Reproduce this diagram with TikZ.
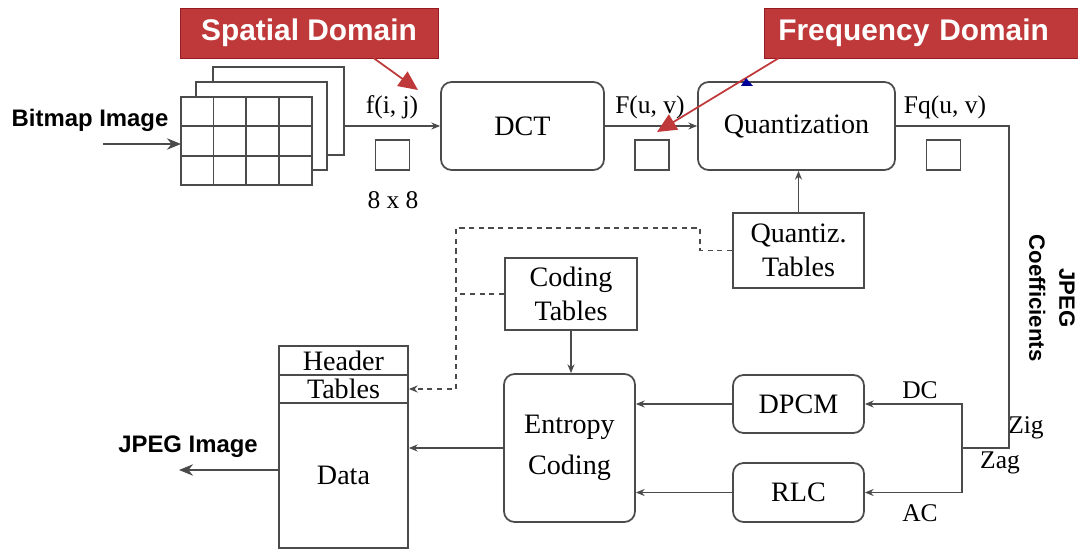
\documentclass[tikz,border=0pt]{standalone}
\usepackage{fontspec}
\setmainfont{Liberation Serif}
\setsansfont{Liberation Sans}
\usetikzlibrary{arrows.meta}
\definecolor{labelred}{RGB}{192,57,58}
\definecolor{labeledge}{RGB}{150,28,34}
\definecolor{linegray}{RGB}{75,75,75}

\begin{document}
\begin{tikzpicture}[x=0.02cm,y=-0.02cm,
    line/.style={draw=linegray,line width=1pt},
    arr/.style={line,-{Stealth[length=5pt,width=4pt]}},
    bigarr/.style={line,-{Stealth[length=8pt,width=6.5pt]}},
    dashline/.style={line,dash pattern=on 3pt off 2.5pt},
    block/.style={line,rounded corners=6pt,align=center,inner sep=0pt,font=\fontsize{16}{19}\selectfont},
    tab/.style={line,align=center,inner sep=0pt,font=\fontsize{16}{19}\selectfont},
    cell/.style={line,minimum width=0.68cm,minimum height=0.6cm,inner sep=0pt},
    lab/.style={inner sep=0pt,font=\fontsize{14.5}{17}\selectfont},
    side/.style={inner sep=0pt,font=\sffamily\bfseries\fontsize{13.6}{16}\selectfont},
    tag/.style={fill=labelred,draw=labeledge,text=white,inner sep=0pt,minimum height=1cm,
      font=\sffamily\bfseries\fontsize{17}{20}\selectfont},
    pointer/.style={draw=labelred,line width=1pt,-{Triangle[length=11pt,width=10pt]}}]
  \useasboundingbox (0,0) rectangle (1078,550);

  % bitmap sheets
  \foreach \dx/\dy in {32/-30,15/-15,0/0}
    \draw[line,fill=white] (181+\dx,97+\dy) rectangle +(131,88);
  \foreach \x in {213.5,246,279}
    \draw[line] (\x,97) -- (\x,185);
  \foreach \y in {126,156}
    \draw[line] (181,\y) -- (312,\y);
  \coordinate (grid) at (181,144);
  \coordinate (img) at (344,126);
  \coordinate (bmp) at (103,144);

  \node[side] (bitmap) at (90,120) {Bitmap Image};
  \node[block,minimum width=3.26cm,minimum height=1.76cm] (dct) at (522.5,126) {DCT};
  \node[block,minimum width=3.94cm,minimum height=1.76cm] (quant) at (796.5,126) {Quantization};
  \node[tab,minimum width=2.62cm,minimum height=1.5cm] (qtab) at (798.5,250.5) {Quantiz.\\Tables};
  \node[tab,minimum width=2.64cm,minimum height=1.44cm] (ctab) at (571,294) {Coding\\Tables};
  \node[block,minimum width=2.62cm,minimum height=2.96cm] (entropy) at (569.5,448) {Entropy\\[4pt]Coding};
  \node[block,minimum width=2.62cm,minimum height=1.16cm] (dpcm) at (798.5,404) {DPCM};
  \node[block,minimum width=2.62cm,minimum height=1.18cm] (rlc) at (798.5,492.5) {RLC};
  \node[tab,minimum width=2.58cm,minimum height=0.58cm] (header) at (343.5,360.5) {Header};
  \node[tab,minimum width=2.58cm,minimum height=0.56cm] (tables) at (343.5,389) {Tables};
  \node[tab,minimum width=2.58cm,minimum height=2.9cm] (data) at (343.5,475.5) {Data};
  \node[side] (jpegout) at (188,447) {JPEG Image};

  \node[cell] (sqa) at (392.5,155) {};
  \node[cell] (sqb) at (652,155) {};
  \node[cell] (sqc) at (943.5,155) {};
  \node[lab] (fij) at (392,107) {f(i, j)};
  \node[lab] (fuv) at (650,107) {F(u, v)};
  \node[lab] (fquv) at (945,107) {Fq(u, v)};
  \node[lab] (eight) at (393,200) {8 x 8};
  \node[lab] (dc) at (920,390) {DC};
  \node[lab] (ac) at (920,513) {AC};
  \node[lab] (zig) at (1026,428) {Zig};
  \node[lab] (zag) at (1000,463) {Zag};
  \node[side,rotate=-90,align=center,font=\sffamily\bfseries\fontsize{12.6}{17}\selectfont] (coef) at (1052,298) {JPEG\\Coefficients};

  \coordinate (turn) at (1009,448);
  \coordinate (split) at (962,448);
  \coordinate (out) at (179,470);
  \coordinate (d1) at (700,228);
  \coordinate (d2) at (456,228);

  \draw[bigarr] (bmp) -- (grid);
  \draw[arr] (img) -- (dct.west);
  \draw[arr] (dct) -- (quant);
  \draw[arr] (qtab.north) -- (qtab.north |- quant.south);
  \draw[line] (quant.east) -| (turn) -- (split);
  \draw[arr] (split) |- (dpcm.east);
  \draw[arr] (split) |- (rlc.east);
  \draw[arr] (dpcm) -- (entropy.east |- dpcm);
  \draw[arr] (rlc) -- (entropy.east |- rlc);
  \draw[arr] (ctab.south) -- (ctab.south |- entropy.north);
  \draw[arr] (entropy.west) -- (data.east |- entropy.west);
  \draw[bigarr] (data.west |- out) -- (out);
  \draw[dashline,-{Stealth[length=5pt,width=4pt]}] (qtab.west) -| (d1) -- (d2) |- (tables.east);
  \draw[dashline] (ctab.west) -- (d2 |- ctab.west);

  % domain callouts
  \node[tag,minimum width=5.16cm] (spatial) at (309,33) {Spatial Domain};
  \node[tag,anchor=west,inner xsep=0.28cm,text width=5.72cm,align=left] (freq) at (764,33) {Frequency Domain};
  \coordinate (fijtip) at (418,90);
  \coordinate (fuvtip) at (657,132);
  \draw[pointer] ([xshift=1.3cm]spatial.south) -- (fijtip);
  \draw[pointer] ([xshift=-2.86cm]freq.south) -- (fuvtip);
  \fill[blue!60!black] (741,86) -- (753,86) -- (746,78) -- cycle;
\end{tikzpicture}
\end{document}
